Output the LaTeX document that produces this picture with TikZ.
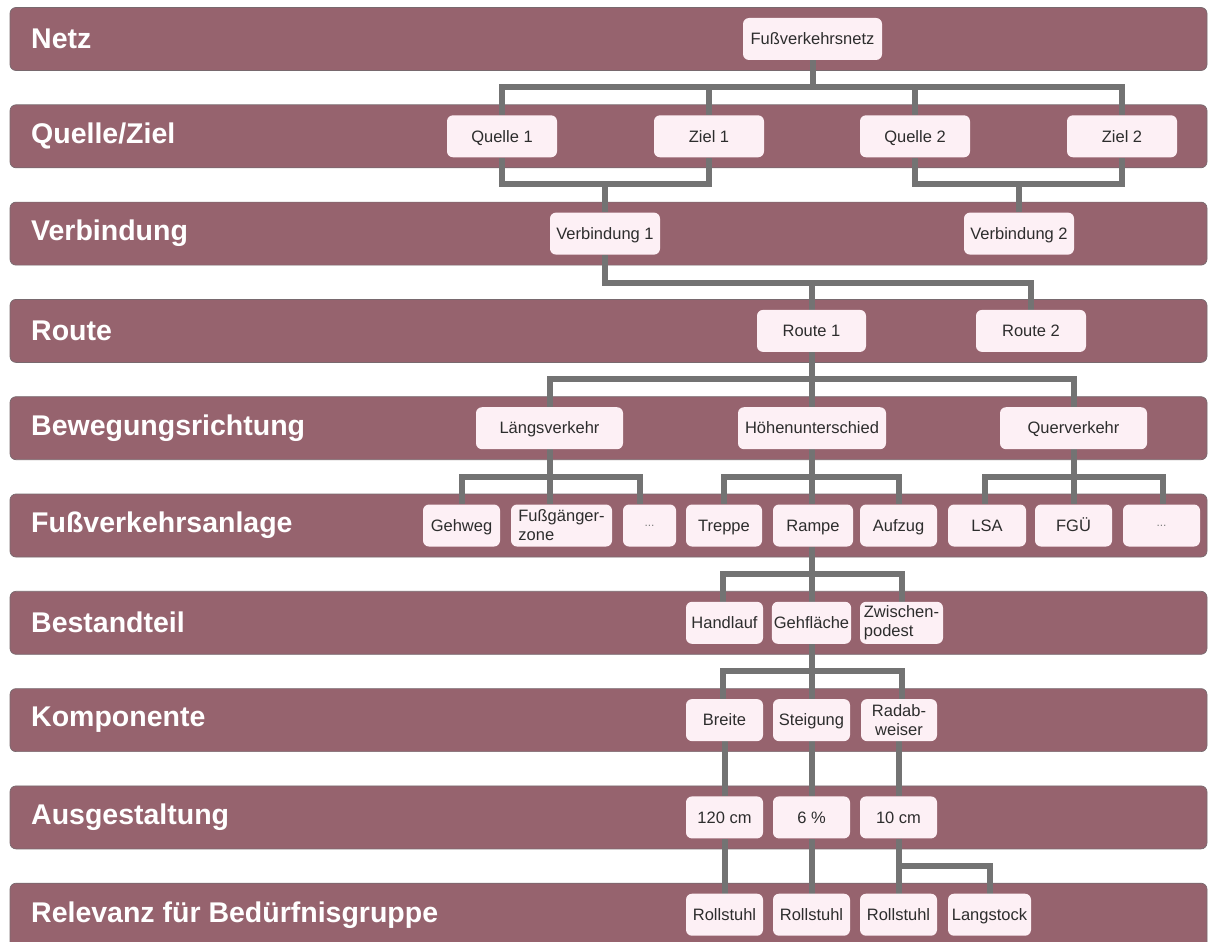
\documentclass[tikz,border=0pt]{standalone}
\usepackage{fontspec}
\setmainfont{Liberation Sans}
\usetikzlibrary{calc}
\definecolor{bandcol}{RGB}{150,99,110}
\definecolor{bandedge}{RGB}{120,105,110}
\definecolor{boxfill}{RGB}{253,240,245}
\definecolor{conncol}{RGB}{115,115,115}
\definecolor{txtcol}{RGB}{45,45,45}
\pgfdeclarelayer{bg}
\pgfdeclarelayer{lines}
\pgfsetlayers{bg,lines,main}
\tikzset{
  bandbox/.style={fill=bandcol, draw=bandedge, line width=0.7pt, rounded corners=6pt},
  bandlabel/.style={anchor=west, text=white, font=\fontsize{28.5}{31}\selectfont\bfseries, inner sep=0pt},
  itembase/.style={fill=boxfill, rounded corners=6pt, minimum height=42pt, text=txtcol,
    font=\fontsize{16.5}{19}\selectfont, inner sep=2pt, align=center},
  item/.style={itembase, text height=12pt, text depth=0.5pt},
  item2/.style={itembase},
  dotsitem/.style={itembase, text=gray, font=\fontsize{12}{14}\selectfont},
  lk/.style={draw=conncol, line width=6pt, line join=miter},
}
\begin{document}
\begin{tikzpicture}[x=1pt,y=-1pt]
\useasboundingbox (0,0) rectangle (1208,942);
\clip (0,0) rectangle (1208,942);
% bands
\begin{pgfonlayer}{bg}
\fill[white] (0,0) rectangle (1208,942);
\path[bandbox] (10,7.5) rectangle (1207,70.5);
\path[bandbox] (10,104.8) rectangle (1207,167.8);
\path[bandbox] (10,202.1) rectangle (1207,265.1);
\path[bandbox] (10,299.4) rectangle (1207,362.4);
\path[bandbox] (10,396.7) rectangle (1207,459.7);
\path[bandbox] (10,494) rectangle (1207,557);
\path[bandbox] (10,591.3) rectangle (1207,654.3);
\path[bandbox] (10,688.6) rectangle (1207,751.6);
\path[bandbox] (10,785.9) rectangle (1207,848.9);
\path[bandbox] (10,883.2) rectangle (1207,970);
\end{pgfonlayer}
\node[bandlabel] (lab0) at (31,39) {Netz};
\node[bandlabel] (lab1) at (31,136.3) {Quelle/Ziel};
\node[bandlabel] (lab2) at (31,233.6) {Verbindung};
\node[bandlabel] (lab3) at (31,330.9) {Route};
\node[bandlabel] (lab4) at (31,428.2) {Bewegungsrichtung};
\node[bandlabel] (lab5) at (31,525.5) {Fußverkehrsanlage};
\node[bandlabel] (lab6) at (31,622.8) {Bestandteil};
\node[bandlabel] (lab7) at (31,720.1) {Komponente};
\node[bandlabel] (lab8) at (31,817.4) {Ausgestaltung};
\node[bandlabel] (lab9) at (31,914.7) {Relevanz für Bedürfnisgruppe};
% nodes
\node[item, minimum width=139pt] (fvn) at (812.5,39) {Fußverkehrsnetz};
\node[item, minimum width=110pt] (q1) at (502,136.3) {Quelle 1};
\node[item, minimum width=110pt] (z1) at (709,136.3) {Ziel 1};
\node[item, minimum width=110pt] (q2) at (915,136.3) {Quelle 2};
\node[item, minimum width=110pt] (z2) at (1122,136.3) {Ziel 2};
\node[item, minimum width=110pt] (v1) at (605,233.6) {Verbindung 1};
\node[item, minimum width=110pt] (v2) at (1019,233.6) {Verbindung 2};
\node[item, minimum width=109pt] (r1) at (811.5,330.9) {Route 1};
\node[item, minimum width=110pt] (r2) at (1031,330.9) {Route 2};
\node[item, minimum width=147pt] (lv) at (549.5,428.2) {Längsverkehr};
\node[item, minimum width=148pt] (hu) at (812,428.2) {Höhenunterschied};
\node[item, minimum width=147pt] (qv) at (1073.5,428.2) {Querverkehr};
\node[item, minimum width=77pt] (gehweg) at (461.5,525.5) {Gehweg};
\node[item2, minimum width=101pt, align=left] (fgz) at (561.5,525.5) {Fußgänger-\\zone};
\node[dotsitem, minimum width=53pt] (dots1) at (649.5,525.5) {...};
\node[item, minimum width=76pt] (treppe) at (724,525.5) {Treppe};
\node[item, minimum width=80pt] (rampe) at (813,525.5) {Rampe};
\node[item, minimum width=77pt] (aufzug) at (898.5,525.5) {Aufzug};
\node[item, minimum width=78pt] (lsa) at (987,525.5) {LSA};
\node[item, minimum width=77pt] (fgu) at (1073.5,525.5) {FGÜ};
\node[dotsitem, minimum width=77pt] (dots2) at (1161.5,525.5) {...};
\node[item, minimum width=77pt] (handlauf) at (724.5,622.8) {Handlauf};
\node[item, minimum width=77pt] (gehfl) at (811.5,622.8) {Gehfläche};
\node[item2, minimum width=83pt, align=left] (zwp) at (901.5,622.8) {Zwischen-\\podest};
\node[item, minimum width=77pt] (breite) at (724.5,720.1) {Breite};
\node[item, minimum width=77pt] (steig) at (811.5,720.1) {Steigung};
\node[item2, minimum width=76pt] (radab) at (899,720.1) {Radab-\\weiser};
\node[item, minimum width=77pt] (c120) at (724.5,817.4) {120 cm};
\node[item, minimum width=77pt] (p6) at (811.5,817.4) {6 \%};
\node[item, minimum width=77pt] (c10) at (898.5,817.4) {10 cm};
\node[item, minimum width=77pt] (roll1) at (724.5,914.7) {Rollstuhl};
\node[item, minimum width=77pt] (roll2) at (811.5,914.7) {Rollstuhl};
\node[item, minimum width=77pt] (roll3) at (898.5,914.7) {Rollstuhl};
\node[item, minimum width=83pt] (lang) at (989.5,914.7) {Langstock};
% bus levels
\coordinate (b0) at (0,87.5);
\coordinate (b1) at (0,184);
\coordinate (b2) at (0,282.5);
\coordinate (b3) at (0,378.5);
\coordinate (b4) at (0,477);
\coordinate (b5) at (0,574);
\coordinate (b6) at (0,671);
\coordinate (b8) at (0,866);
% connectors
\begin{pgfonlayer}{lines}
\draw[lk] (fvn.south) -- (fvn.south |- b0) -| (q1.north);
\draw[lk] (fvn.south) -- (fvn.south |- b0) -| (z1.north);
\draw[lk] (fvn.south) -- (fvn.south |- b0) -| (q2.north);
\draw[lk] (fvn.south) -- (fvn.south |- b0) -| (z2.north);
\draw[lk] (q1.south) |- (v1.north |- b1) -| (z1.south);
\draw[lk] (v1.north) -- (v1.north |- b1);
\draw[lk] (q2.south) |- (v2.north |- b1) -| (z2.south);
\draw[lk] (v2.north) -- (v2.north |- b1);
\draw[lk] (v1.south) -- (v1.south |- b2) -| (r2.north);
\draw[lk] (r1.north) -- (r1.north |- b2);
\draw[lk] (r1.south) -- (r1.south |- b3) -| (lv.north);
\draw[lk] (r1.south) -- (r1.south |- b3) -| (qv.north);
\draw[lk] (r1.south) -- (r1.south |- hu.north);
\draw[lk] (lv.south) -- (lv.south |- b4) -| (gehweg.north);
\draw[lk] (lv.south) -- (lv.south |- fgz.north);
\draw[lk] (lv.south) -- (lv.south |- b4) -| ([xshift=-10pt]dots1.north);
\draw[lk] (hu.south) -- (hu.south |- b4) -| (treppe.north);
\draw[lk] (hu.south) -- (hu.south |- rampe.north);
\draw[lk] (hu.south) -- (hu.south |- b4) -| (aufzug.north);
\draw[lk] (qv.south) -- (qv.south |- b4) -| ([xshift=-2pt]lsa.north);
\draw[lk] (qv.south) -- (qv.south |- fgu.north);
\draw[lk] (qv.south) -- (qv.south |- b4) -| ([xshift=1.5pt]dots2.north);
\draw[lk] ([xshift=-1pt]rampe.south) -- ([xshift=-1pt]rampe.south |- b5) -| ([xshift=-1.5pt]handlauf.north);
\draw[lk] ([xshift=-1pt]rampe.south) -- ([xshift=-1pt]rampe.south |- gehfl.north);
\draw[lk] ([xshift=-1pt]rampe.south) -- ([xshift=-1pt]rampe.south |- b5) -| (zwp.north);
\draw[lk] (gehfl.south) -- (gehfl.south |- b6) -| ([xshift=-1.5pt]breite.north);
\draw[lk] (gehfl.south) -- (steig.north);
\draw[lk] (gehfl.south) -- (gehfl.south |- b6) -| ([xshift=3pt]radab.north);
\draw[lk] (breite.south) -- (c120.north);
\draw[lk] (steig.south) -- (p6.north);
\draw[lk] (radab.south) -- (radab.south |- c10.north);
\draw[lk] (c120.south) -- (roll1.north);
\draw[lk] (p6.south) -- (roll2.north);
\draw[lk] (c10.south) -- (roll3.north);
\draw[lk] (c10.south) -- (c10.south |- b8) -| (lang.north);
\end{pgfonlayer}
\end{tikzpicture}
\end{document}
